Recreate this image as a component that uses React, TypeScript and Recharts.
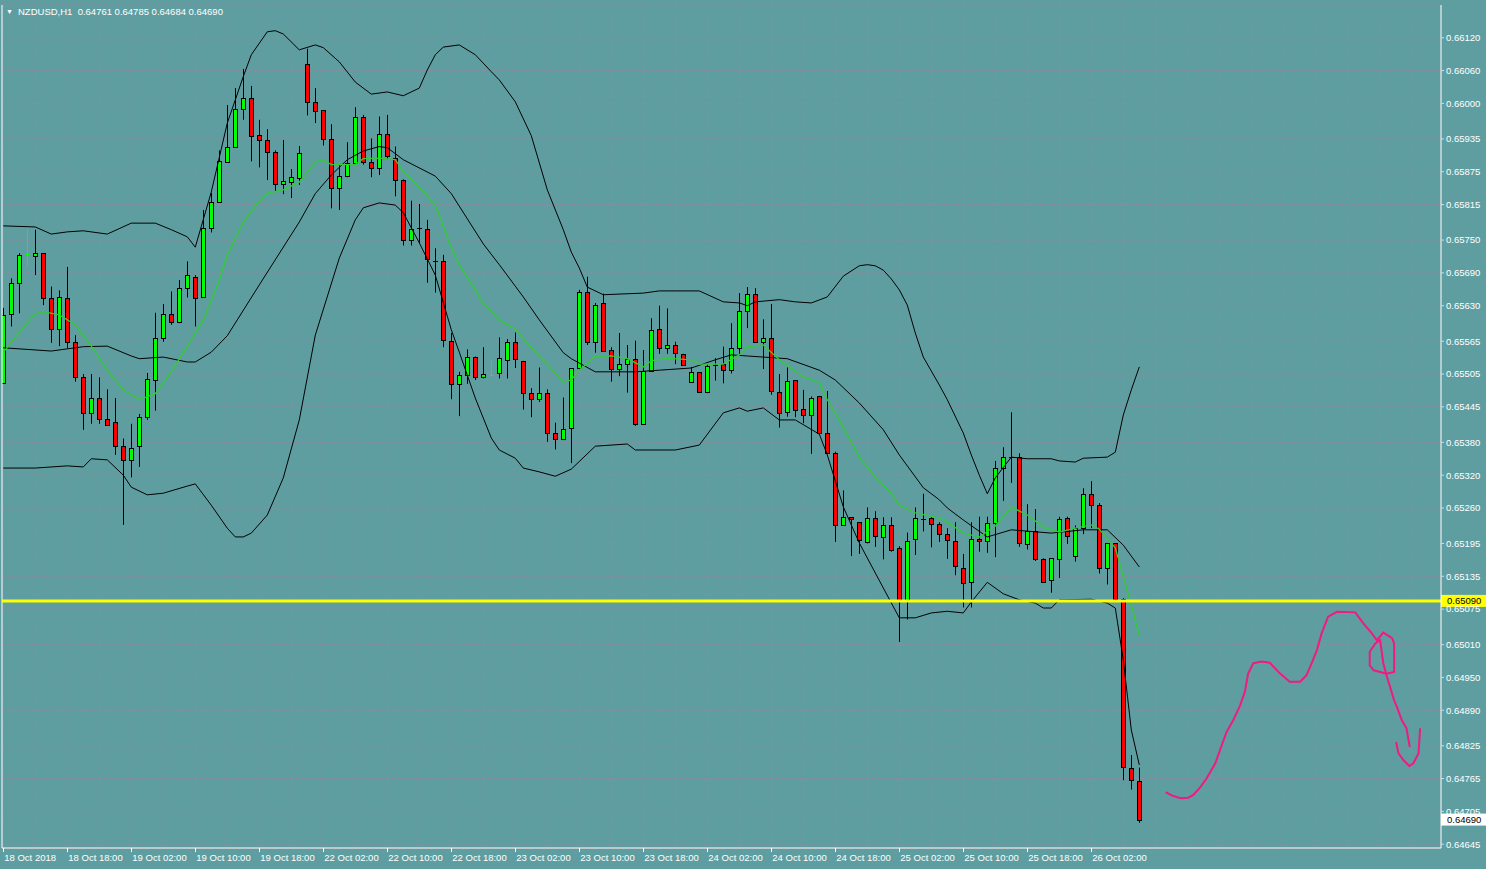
import React from 'react';
import { ComposedChart, Bar, Line, Scatter, XAxis, YAxis, CartesianGrid, ReferenceLine } from 'recharts';

// NZDUSD H1 candles, 18 Oct 10:00 .. 26 Oct 08:00 (index 0..142)
const opens = [
  0.65489, 0.65614, 0.65671, 0.65723, 0.65721, 0.65726, 0.65644, 0.65587, 0.65644, 0.65563,
  0.65499, 0.65433, 0.65462, 0.65422, 0.65417, 0.65374, 0.65348, 0.65373, 0.65426, 0.65494,
  0.6557, 0.65614, 0.656, 0.65662, 0.65683, 0.65645, 0.65772, 0.65819, 0.65893, 0.65921,
  0.6599, 0.6601, 0.65942, 0.65933, 0.65911, 0.65852, 0.65856, 0.65863, 0.66072, 0.66002,
  0.65988, 0.65935, 0.65845, 0.65868, 0.65891, 0.65975, 0.65893, 0.65882, 0.65944, 0.659,
  0.6586, 0.6575, 0.65772, 0.6577, 0.65712, 0.65711, 0.65565, 0.65486, 0.65503, 0.65537,
  0.65499, 0.65503, 0.65506, 0.65531, 0.65563, 0.65529, 0.6547, 0.65459, 0.65471, 0.65397,
  0.65386, 0.65406, 0.65516, 0.65655, 0.65564, 0.65635, 0.65549, 0.65514, 0.65523, 0.65532,
  0.65413, 0.65511, 0.65587, 0.65552, 0.65558, 0.65542, 0.6549, 0.65508, 0.65472, 0.65522,
  0.65523, 0.65512, 0.65553, 0.6562, 0.65651, 0.65564, 0.6557, 0.65473, 0.65435, 0.65494,
  0.65441, 0.6543, 0.65465, 0.65398, 0.65361, 0.65228, 0.65243, 0.65234, 0.65198, 0.65241,
  0.65206, 0.65228, 0.65186, 0.6509, 0.65203, 0.6524, 0.65241, 0.6523, 0.65212, 0.652,
  0.65151, 0.65124, 0.65204, 0.652, 0.65232, 0.65334, 0.65353, 0.65353, 0.65194, 0.65217,
  0.65166, 0.65129, 0.65166, 0.65241, 0.65173, 0.65223, 0.65285, 0.65265, 0.6515, 0.65195,
  0.65093, 0.64785, 0.64761,
];
const highs = [
  0.65626, 0.6568, 0.65726, 0.65772, 0.65769, 0.65726, 0.65665, 0.65658, 0.65701, 0.65576,
  0.65505, 0.65505, 0.65499, 0.65477, 0.65461, 0.65387, 0.65414, 0.65432, 0.65507, 0.65617,
  0.65633, 0.65656, 0.65677, 0.65711, 0.65686, 0.65805, 0.65836, 0.65914, 0.65997, 0.66028,
  0.66063, 0.66032, 0.6597, 0.65953, 0.65914, 0.65933, 0.6588, 0.65922, 0.661, 0.66028,
  0.65988, 0.65962, 0.65889, 0.65929, 0.65993, 0.65979, 0.65936, 0.65976, 0.65979, 0.65921,
  0.65861, 0.65822, 0.65816, 0.65787, 0.65735, 0.65723, 0.6558, 0.65509, 0.6555, 0.65537,
  0.65554, 0.65529, 0.65572, 0.65569, 0.65581, 0.65529, 0.65479, 0.65517, 0.65477, 0.65416,
  0.65462, 0.65516, 0.65659, 0.65683, 0.65635, 0.65652, 0.65554, 0.6558, 0.65558, 0.65566,
  0.65549, 0.65607, 0.6563, 0.65625, 0.65564, 0.65542, 0.65518, 0.65508, 0.65523, 0.65534,
  0.65555, 0.65598, 0.65653, 0.65664, 0.65662, 0.65605, 0.65633, 0.65505, 0.65517, 0.65494,
  0.65476, 0.65464, 0.65465, 0.65474, 0.65363, 0.65292, 0.65243, 0.65234, 0.65261, 0.65254,
  0.65243, 0.65243, 0.6519, 0.65215, 0.65261, 0.65286, 0.65243, 0.65234, 0.65223, 0.65234,
  0.65176, 0.65234, 0.65244, 0.65244, 0.65346, 0.65371, 0.65435, 0.6536, 0.65267, 0.65258,
  0.65168, 0.65168, 0.65244, 0.65244, 0.65228, 0.65296, 0.65309, 0.65269, 0.65195, 0.65195,
  0.65095, 0.64808, 0.64785,
];
const lows = [
  0.65489, 0.65592, 0.65616, 0.65701, 0.65686, 0.65631, 0.65562, 0.65556, 0.65552, 0.65491,
  0.65403, 0.65414, 0.65414, 0.65412, 0.65357, 0.65229, 0.65316, 0.65335, 0.65421, 0.65438,
  0.65564, 0.65595, 0.65598, 0.65645, 0.65592, 0.65644, 0.65764, 0.65819, 0.65893, 0.65921,
  0.6597, 0.65894, 0.65883, 0.6586, 0.65838, 0.65834, 0.65827, 0.65851, 0.65978, 0.65964,
  0.65923, 0.65808, 0.65805, 0.65865, 0.65891, 0.65888, 0.65865, 0.65869, 0.65898, 0.6583,
  0.6574, 0.6574, 0.65744, 0.65672, 0.65654, 0.65554, 0.65459, 0.65428, 0.65487, 0.65494,
  0.65497, 0.65501, 0.65497, 0.65497, 0.65516, 0.6544, 0.65426, 0.65454, 0.65381, 0.65367,
  0.65384, 0.65342, 0.65514, 0.65558, 0.65544, 0.65548, 0.65491, 0.65501, 0.65471, 0.6541,
  0.65412, 0.65509, 0.65542, 0.65542, 0.65523, 0.6552, 0.65489, 0.65471, 0.6547, 0.65493,
  0.65488, 0.65506, 0.65538, 0.65589, 0.65562, 0.65514, 0.65467, 0.65407, 0.65427, 0.65426,
  0.65415, 0.65359, 0.65395, 0.65359, 0.65198, 0.65228, 0.65172, 0.65176, 0.65195, 0.65189,
  0.65166, 0.6518, 0.65015, 0.65056, 0.65174, 0.65217, 0.65188, 0.65198, 0.65167, 0.65137,
  0.65078, 0.65078, 0.6518, 0.65178, 0.6517, 0.65273, 0.65306, 0.65189, 0.65184, 0.65163,
  0.65125, 0.65105, 0.65132, 0.65194, 0.65162, 0.65212, 0.65223, 0.6514, 0.6512, 0.65092,
  0.64762, 0.64745, 0.64684,
];
const closes = [
  0.65613, 0.65671, 0.65723, 0.65724, 0.65726, 0.65644, 0.65587, 0.65645, 0.65564, 0.65499,
  0.65433, 0.65462, 0.65422, 0.65412, 0.65374, 0.65348, 0.65369, 0.65427, 0.65495, 0.6557,
  0.65614, 0.656, 0.65662, 0.65686, 0.65644, 0.65772, 0.6582, 0.65894, 0.65921, 0.6599,
  0.6601, 0.65941, 0.65933, 0.65911, 0.65852, 0.65858, 0.65865, 0.65909, 0.66002, 0.65987,
  0.65935, 0.65845, 0.65868, 0.65891, 0.65975, 0.65893, 0.65882, 0.65944, 0.65903, 0.6586,
  0.6575, 0.6577, 0.65772, 0.65715, 0.65712, 0.65567, 0.65486, 0.65503, 0.65537, 0.65499,
  0.65505, 0.65504, 0.65534, 0.65563, 0.65532, 0.6547, 0.65459, 0.65471, 0.65397, 0.65386,
  0.65404, 0.65516, 0.65655, 0.65564, 0.65631, 0.65548, 0.65514, 0.65523, 0.65532, 0.65414,
  0.65511, 0.65586, 0.65552, 0.65558, 0.65543, 0.65522, 0.65508, 0.65473, 0.6552, 0.65522,
  0.65512, 0.65552, 0.6562, 0.65651, 0.65564, 0.6557, 0.65474, 0.65433, 0.65492, 0.6544,
  0.6543, 0.65462, 0.65397, 0.6536, 0.65228, 0.65243, 0.65239, 0.65201, 0.65241, 0.65209,
  0.65228, 0.65184, 0.6509, 0.652, 0.65241, 0.6524, 0.6523, 0.65212, 0.65201, 0.65154,
  0.65122, 0.65204, 0.652, 0.65232, 0.65333, 0.65353, 0.65353, 0.65195, 0.65218, 0.65166,
  0.65125, 0.65168, 0.6524, 0.65209, 0.65223, 0.65285, 0.65265, 0.6515, 0.65195, 0.65093,
  0.64786, 0.64762, 0.6469,
];

// Bollinger bands (black) and moving average (green), read at sampled bars
const upperBand: [number, number][] = [
  [0, 0.65776], [4, 0.65774], [6, 0.65761], [8, 0.65765], [10, 0.65767], [13, 0.65761], [16, 0.65781],
  [19, 0.65781], [21, 0.65769], [23, 0.65756], [24, 0.65737], [26, 0.65838], [28, 0.65964], [30, 0.66049],
  [31, 0.66089], [33, 0.66131], [34, 0.66133], [35, 0.66127], [37, 0.66098], [39, 0.66107], [40, 0.66102],
  [42, 0.66076], [44, 0.66039], [46, 0.66017], [48, 0.66021], [50, 0.66014], [52, 0.66028], [53, 0.66061],
  [54, 0.66089], [55, 0.66103], [57, 0.66107], [59, 0.66089], [61, 0.66058], [62, 0.66043], [64, 0.66003],
  [66, 0.65941], [68, 0.65842], [70, 0.65769], [71, 0.65728], [72, 0.65699], [73, 0.65664], [75, 0.6565],
  [80, 0.65653], [82, 0.65657], [87, 0.65657], [90, 0.65637], [92, 0.65635], [93, 0.6563], [94, 0.65637],
  [97, 0.65641], [99, 0.65637], [101, 0.65635], [103, 0.65646], [105, 0.65684], [107, 0.65703],
  [108, 0.65705], [109, 0.65703], [110, 0.65695], [111, 0.65679], [112, 0.65659], [113, 0.65631],
  [114, 0.6558], [115, 0.65536], [117, 0.65485], [118, 0.65458], [120, 0.65397], [121, 0.65357],
  [122, 0.6532], [123, 0.65286], [124, 0.65315], [126, 0.65353], [128, 0.6535], [131, 0.6535],
  [132, 0.65346], [134, 0.65344], [135, 0.65351], [138, 0.65353], [139, 0.65362], [140, 0.6543],
  [141, 0.65476], [142, 0.65518],
];
const middleBand: [number, number][] = [
  [0, 0.65553], [6, 0.65547], [10, 0.65555], [13, 0.65556], [16, 0.65538], [17, 0.65533], [20, 0.65536],
  [23, 0.65527], [24, 0.65527], [26, 0.65545], [28, 0.65575], [32, 0.65668], [37, 0.65783], [39, 0.65835],
  [41, 0.65869], [43, 0.65897], [45, 0.65913], [47, 0.65921], [48, 0.65919], [50, 0.65897], [54, 0.65867],
  [56, 0.65835], [60, 0.65743], [62, 0.65705], [65, 0.65646], [67, 0.65604], [70, 0.65544], [71, 0.65533],
  [74, 0.65509], [79, 0.65509], [82, 0.65512], [86, 0.65516], [89, 0.65531], [91, 0.6554], [93, 0.65538],
  [95, 0.65536], [98, 0.65533], [102, 0.65512], [104, 0.65494], [107, 0.65452], [110, 0.65403],
  [112, 0.65357], [115, 0.65297], [117, 0.65275], [118, 0.6526], [120, 0.65238], [123, 0.65207],
  [126, 0.6522], [131, 0.65214], [135, 0.6522], [138, 0.6522], [140, 0.65192], [142, 0.65152],
];
const lowerBand: [number, number][] = [
  [0, 0.65333], [4, 0.65333], [8, 0.65337], [10, 0.65335], [11, 0.6535], [13, 0.65348], [15, 0.6532],
  [16, 0.65298], [18, 0.65284], [20, 0.65287], [23, 0.653], [24, 0.65304], [26, 0.65265], [28, 0.65223],
  [29, 0.65207], [30, 0.65207], [31, 0.65214], [33, 0.65247], [35, 0.65315], [37, 0.65421], [39, 0.65576],
  [42, 0.65717], [44, 0.65787], [45, 0.65809], [47, 0.65818], [49, 0.65814], [50, 0.658], [52, 0.65745],
  [54, 0.65686], [56, 0.65586], [57, 0.65545], [59, 0.65461], [61, 0.65388], [62, 0.65366], [64, 0.65351],
  [65, 0.65333], [67, 0.65326], [69, 0.65318], [71, 0.65331], [74, 0.65373], [78, 0.65377], [79, 0.65366],
  [84, 0.65366], [87, 0.65375], [90, 0.65434], [92, 0.65443], [93, 0.65437], [95, 0.65443], [97, 0.65421],
  [99, 0.65421], [102, 0.65395], [103, 0.65357], [105, 0.65262], [107, 0.65196], [109, 0.65141],
  [112, 0.65059], [114, 0.65059], [116, 0.65068], [118, 0.65071], [120, 0.65068], [121, 0.65088],
  [123, 0.65124], [125, 0.65103], [127, 0.65092], [129, 0.65086], [130, 0.65077], [131, 0.65077],
  [132, 0.65092], [136, 0.65093], [138, 0.65086], [139, 0.65077], [140, 0.64982], [141, 0.64854],
  [142, 0.6479],
];
const maLine: [number, number][] = [
  [0, 0.65544], [2, 0.65582], [4, 0.65615], [5, 0.65619], [7, 0.65613], [9, 0.65595], [11, 0.65556],
  [13, 0.65512], [15, 0.65476], [17, 0.65458], [19, 0.65469], [21, 0.65509], [23, 0.65556], [25, 0.65604],
  [27, 0.65677], [28, 0.65723], [30, 0.65783], [32, 0.65822], [33, 0.65836], [35, 0.65842], [37, 0.65856],
  [39, 0.65893], [40, 0.65897], [41, 0.65888], [44, 0.65888], [45, 0.65899], [47, 0.659], [49, 0.65897],
  [50, 0.65875], [52, 0.65847], [54, 0.65814], [56, 0.65736], [57, 0.65705], [60, 0.65635], [62, 0.65604],
  [64, 0.65587], [66, 0.65553], [68, 0.65523], [70, 0.6549], [71, 0.65494], [72, 0.65512], [74, 0.65538],
  [76, 0.65538], [78, 0.65533], [80, 0.65518], [81, 0.65529], [83, 0.65534], [86, 0.65531], [87, 0.65523],
  [90, 0.65523], [92, 0.6554], [93, 0.65555], [95, 0.65558], [97, 0.65531], [100, 0.655], [102, 0.65489],
  [103, 0.65458], [105, 0.65408], [107, 0.65353], [109, 0.65317], [111, 0.65287], [112, 0.65265],
  [114, 0.65251], [117, 0.65242], [118, 0.65234], [120, 0.65214], [122, 0.65207], [124, 0.65227],
  [126, 0.65262], [128, 0.65247], [130, 0.65225], [132, 0.65216], [134, 0.65223], [136, 0.65229],
  [137, 0.65221], [139, 0.65187], [141, 0.65082], [142, 0.65027],
];

// hand-drawn pink forecast (bar index, price)
const pinkStrokeA: [number, number][] = [
  [145.3, 0.6474], [146.25, 0.64733], [147.2, 0.64729], [148.1, 0.6473], [148.75, 0.64735], [149.6, 0.64749],
  [150.4, 0.64765], [151.5, 0.64793], [152.3, 0.64826], [152.9, 0.6485], [153.75, 0.64872], [154.6, 0.64899],
  [155.2, 0.64924], [155.6, 0.64957], [156.25, 0.64976], [157.3, 0.64979], [158.3, 0.64977], [159.6, 0.64957],
  [160.8, 0.64942], [162.1, 0.64942], [162.9, 0.64954], [163.55, 0.64976], [164.2, 0.65], [164.8, 0.65031],
  [165.6, 0.65061], [166.7, 0.6507], [169, 0.65069], [170, 0.65049], [171.05, 0.65031], [171.7, 0.65018],
  [172.5, 0.65032], [173.6, 0.65022], [173.85, 0.65012], [173.85, 0.6496], [172.9, 0.64957], [171.3, 0.64963],
  [170.8, 0.64972], [170.8, 0.64997], [171.5, 0.65012], [172.1, 0.65018], [172.5, 0.64976], [172.9, 0.64954],
  [173.4, 0.6493], [173.85, 0.64908], [174.2, 0.64896], [174.8, 0.64872], [175.4, 0.64857], [175.8, 0.64823],
];
const pinkStrokeB: [number, number][] = [
  [174.1, 0.64832], [174.4, 0.64811], [175, 0.64799], [175.75, 0.64788], [176.25, 0.64793], [176.9, 0.64811],
  [177.1, 0.64857],
];

const priceTicks = [
  0.6612, 0.6606, 0.66, 0.65935, 0.65875, 0.65815, 0.6575, 0.6569, 0.6563, 0.65565, 0.65505, 0.65445, 0.6538,
  0.6532, 0.6526, 0.65195, 0.65135, 0.65075, 0.6501, 0.6495, 0.6489, 0.64825, 0.64765, 0.64705, 0.64645,
];
const gridIdx = [
  0, 4, 8, 12, 16, 20, 24, 28, 32, 36, 40, 44, 48, 52, 56, 60, 64, 68, 72, 76, 80, 84, 88, 92, 96, 100, 104,
  108, 112, 116, 120, 124, 128, 132, 136, 140, 144, 148, 152, 156, 160, 164, 168, 172, 176,
];
const dateTickIdx = [0, 8, 16, 24, 32, 40, 48, 56, 64, 72, 80, 88, 96, 104, 112, 120, 128, 136];
const dateTickLabels = [
  '18 Oct 2018', '18 Oct 18:00', '19 Oct 02:00', '19 Oct 10:00', '19 Oct 18:00', '22 Oct 02:00',
  '22 Oct 10:00', '22 Oct 18:00', '23 Oct 02:00', '23 Oct 10:00', '23 Oct 18:00', '24 Oct 02:00',
  '24 Oct 10:00', '24 Oct 18:00', '25 Oct 02:00', '25 Oct 10:00', '25 Oct 18:00', '26 Oct 02:00',
];
const supportLevel = 0.6509;
const lastPrice = 0.6469;

const BG = '#5f9ea0';
const GRID = '#8a8c9e';
const FONT = '"Liberation Sans", Arial, sans-serif';

const upperMap = new Map(upperBand);
const middleMap = new Map(middleBand);
const lowerMap = new Map(lowerBand);
const maMap = new Map(maLine);

const rows = opens.map((o, i) => ({
  i,
  o,
  h: highs[i],
  l: lows[i],
  c: closes[i],
  range: [lows[i], highs[i]],
  upper: upperMap.get(i) ?? null,
  middle: middleMap.get(i) ?? null,
  lower: lowerMap.get(i) ?? null,
  ma: maMap.get(i) ?? null,
}));

const pinkA = pinkStrokeA.map(([i, p]) => ({ i, p }));
const pinkB = pinkStrokeB.map(([i, p]) => ({ i, p }));

const Candle = (props: any) => {
  const { x, y, width, height, payload } = props;
  if (x == null || !payload || !isFinite(height)) return <g />;
  const { o, h, l, c } = payload;
  const C = Math.round(x + width / 2 - 0.5);
  const mid = C + 0.5;
  const k = height / (h - l);
  const yO = y + (h - o) * k;
  const yC = y + (h - c) * k;
  const top = Math.min(yO, yC);
  const bot = Math.max(yO, yC);
  if (bot - top < 1.5) {
    const col = c > o ? '#00ff00' : '#000000';
    const ly = Math.round(top) + 0.5;
    return (
      <g>
        <line x1={mid} x2={mid} y1={y} y2={y + height} stroke={col} strokeWidth={1} />
        <line x1={C - 2} x2={C + 3} y1={ly} y2={ly} stroke={col} strokeWidth={1} />
      </g>
    );
  }
  return (
    <g>
      <line x1={mid} x2={mid} y1={y} y2={y + height} stroke="#000" strokeWidth={1} />
      <rect
        x={C - 1.5}
        y={Math.round(top) + 0.5}
        width={4}
        height={Math.max(1, Math.round(bot) - Math.round(top))}
        fill={c > o ? '#00ff00' : '#ff0000'}
        stroke="#000"
        strokeWidth={1}
      />
    </g>
  );
};

const DateTick = (props: any) => {
  const { x, y, payload } = props;
  const k = dateTickIdx.indexOf(payload.value);
  if (k < 0) return <g />;
  return (
    <g>
      <line x1={Math.round(x) + 0.5} x2={Math.round(x) + 0.5} y1={y} y2={y + 4} stroke="#fff" />
      <text x={x + 1} y={y + 12.5} fill="#fff" fontSize={9.5} fontFamily={FONT} textAnchor="start">
        {dateTickLabels[k]}
      </text>
    </g>
  );
};

const YellowTag = (props: any) => {
  const vb = props.viewBox || {};
  const right = vb.x + vb.width;
  return (
    <g>
      <rect x={right} y={vb.y - 6} width={45} height={12} fill="#ffff00" />
      <text x={right + 6} y={vb.y + 3.5} fill="#000" fontSize={9.5} fontFamily={FONT}>
        {supportLevel.toFixed(5)}
      </text>
    </g>
  );
};

const PriceTag = (props: any) => {
  const vb = props.viewBox || {};
  const right = vb.x + vb.width;
  return (
    <g>
      <rect x={right} y={vb.y - 6} width={45} height={12} fill="#ffffff" />
      <text x={right + 6} y={vb.y + 3.5} fill="#000" fontSize={9.5} fontFamily={FONT}>
        {lastPrice.toFixed(5)}
      </text>
    </g>
  );
};

const NoDot = () => <g />;

export default function App() {
  return (
    <div style={{ position: 'absolute', left: 0, top: 0, width: 1486, height: 869, background: BG, overflow: 'hidden' }}>
      <ComposedChart width={1486} height={869} data={rows} margin={{ top: 5, right: 0, bottom: 0, left: 2 }}>
        <CartesianGrid stroke={GRID} strokeDasharray="3 3" />
        <XAxis
          dataKey="i"
          type="number"
          domain={[-0.16, 179.71]}
          allowDataOverflow
          ticks={gridIdx}
          interval={0}
          height={21}
          tickLine={false}
          tickSize={0}
          tickMargin={0}
          axisLine={{ stroke: '#fff' }}
          tick={<DateTick />}
        />
        <YAxis
          orientation="right"
          type="number"
          domain={[0.64638, 0.6618]}
          allowDataOverflow
          ticks={priceTicks}
          interval={0}
          width={45}
          tickSize={3}
          tickMargin={2}
          axisLine={{ stroke: '#fff' }}
          tickLine={{ stroke: '#d8d8d8' }}
          tick={{ fill: '#fff', fontSize: 9.5, fontFamily: FONT }}
          tickFormatter={(v: number) => v.toFixed(5)}
        />
        <ReferenceLine x={-0.16} stroke="#fff" ifOverflow="visible" />
        <Line dataKey="upper" type="linear" stroke="#000" strokeWidth={1} dot={false} connectNulls isAnimationActive={false} />
        <Line dataKey="middle" type="linear" stroke="#000" strokeWidth={1} dot={false} connectNulls isAnimationActive={false} />
        <Line dataKey="lower" type="linear" stroke="#000" strokeWidth={1} dot={false} connectNulls isAnimationActive={false} />
        <Line dataKey="ma" type="linear" stroke="#32cd32" strokeWidth={1.3} dot={false} connectNulls isAnimationActive={false} />
        <Bar dataKey="range" barSize={5} shape={Candle} isAnimationActive={false} />
        <ReferenceLine y={supportLevel} stroke="#ffff00" strokeWidth={3} label={YellowTag} />
        <ReferenceLine y={lastPrice} stroke="none" label={PriceTag} />
        <Scatter data={pinkA} dataKey="p" line={{ stroke: '#f01a82', strokeWidth: 2 }} shape={NoDot} isAnimationActive={false} />
        <Scatter data={pinkB} dataKey="p" line={{ stroke: '#f01a82', strokeWidth: 2 }} shape={NoDot} isAnimationActive={false} />
      </ComposedChart>
      <div style={{ position: 'absolute', left: 6, top: 8, fontSize: 7, color: '#fff', lineHeight: '8px' }}>▼</div>
      <div style={{ position: 'absolute', left: 18, top: 6, fontSize: 9.5, color: '#fff', fontFamily: FONT, lineHeight: '12px', whiteSpace: 'pre' }}>
        NZDUSD,H1  0.64761 0.64785 0.64684 0.64690
      </div>
    </div>
  );
}
